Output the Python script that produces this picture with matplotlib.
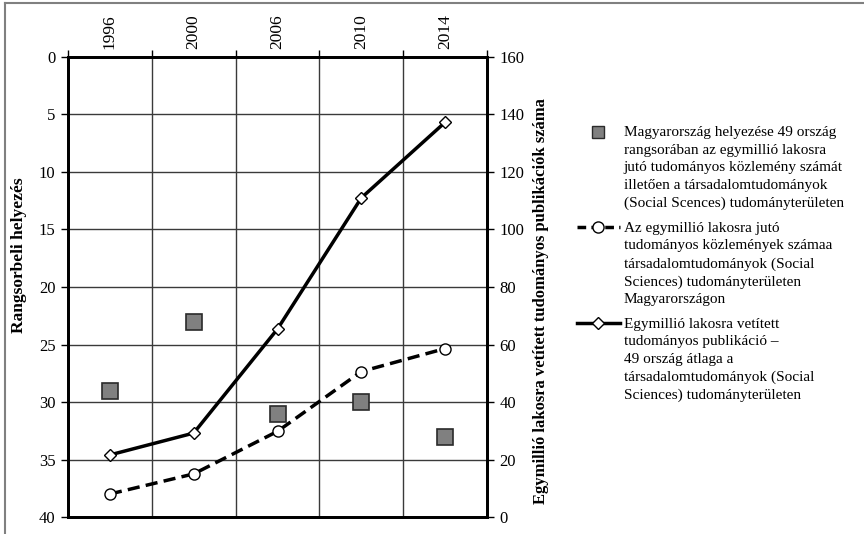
import matplotlib
matplotlib.use("Agg")
from matplotlib import pyplot as plt
from matplotlib.ticker import MultipleLocator, FixedLocator, NullFormatter
from matplotlib.lines import Line2D
import numpy as np

plt.rcParams['font.family'] = ['Liberation Serif', 'DejaVu Serif']

years = ["1996", "2000", "2006", "2010", "2014"]
rank_hu = [29, 23, 31, 30, 33]
pub_hu = [8, 15, 29.8, 50.6, 58.6]
pub_avg49 = [21.6, 29.2, 65.4, 111, 137.3]

lbl_rank = ("Magyarország helyezése 49 ország\nrangsorában az egymillió lakosra\n"
            "jutó tudományos közlemény számát\nilletően a társadalomtudományok\n"
            "(Social Scences) tudományterületen")
lbl_hu = ("Az egymillió lakosra jutó\ntudományos közlemények számaa\n"
          "társadalomtudományok (Social\nSciences) tudományterületen\nMagyarországon")
lbl_avg = ("Egymillió lakosra vetített\ntudományos publikáció –\n49 ország átlaga a\n"
           "társadalomtudományok (Social\nSciences) tudományterületen")

x = np.arange(len(years))

fig = plt.figure(figsize=(8.64, 5.34), dpi=100)
ax = fig.add_axes([0.0787, 0.0318, 0.485, 0.8615])
ax2 = ax.twinx()

# rank squares (left axis, inverted)
ax.plot(x, rank_hu, linestyle='none', marker='s', markersize=11.5,
        markerfacecolor='#808080', markeredgecolor='#2a2a2a', markeredgewidth=1.2, zorder=5)
ax.set_ylim(40, 0)
ax.yaxis.set_major_locator(MultipleLocator(5))
ax.set_xlim(-0.5, len(years) - 0.5)

# grid
for v in np.arange(0.5, len(years) - 0.5, 1):
    ax.axvline(v, color='#3a3a3a', lw=1, zorder=1)
for v in range(5, 40, 5):
    ax.axhline(v, color='#3a3a3a', lw=1, zorder=1)

# x ticks on top: marks at boundaries, labels at centers
ax.xaxis.set_ticks_position('top')
ax.xaxis.set_major_locator(FixedLocator(np.arange(-0.5, len(years), 1)))
ax.xaxis.set_major_formatter(NullFormatter())
ax.xaxis.set_minor_locator(FixedLocator(x))
ax.set_xticklabels(years, minor=True, rotation=90, fontsize=12.5)
ax.tick_params(axis='x', which='minor', length=0, pad=6)
ax.tick_params(axis='x', which='major', length=5, width=1, direction='out')
ax.tick_params(axis='y', length=5, width=1, direction='out', labelsize=12, pad=4)

ax2.plot(x, pub_hu, color='black', lw=2.5, dashes=(3.5, 1.8), marker='o', markersize=8,
         markerfacecolor='white', markeredgecolor='black', markeredgewidth=1, zorder=6)
ax2.plot(x, pub_avg49, color='black', lw=2.5, marker='D', markersize=6.5,
         markerfacecolor='white', markeredgecolor='black', markeredgewidth=1, zorder=6)
ax2.set_ylim(0, 160)
ax2.yaxis.set_major_locator(MultipleLocator(20))
ax2.tick_params(axis='y', length=5, width=1, direction='out', labelsize=12, pad=4)

for a in (ax, ax2):
    for s in a.spines.values():
        s.set_linewidth(2)
        s.set_color('black')

ax.set_ylabel("Rangsorbeli helyezés", fontweight='bold', fontsize=12.5)
ax.yaxis.set_label_coords(-0.097, 0.57)
ax2.set_ylabel("Egymillió lakosra vetített tudományos publikációk száma",
               fontweight='bold', fontsize=12)
ax2.yaxis.set_label_coords(1.11, 0.47)

handles = [
    Line2D([], [], linestyle='none', marker='s', markersize=9,
           markerfacecolor='#808080', markeredgecolor='#2a2a2a'),
    Line2D([], [], color='black', lw=2.5, dashes=(2.5, 1.5), marker='o', markersize=8,
           markerfacecolor='white', markeredgecolor='black'),
    Line2D([], [], color='black', lw=2.5, marker='D', markersize=6.5,
           markerfacecolor='white', markeredgecolor='black'),
]
leg = fig.legend(handles, [lbl_rank, lbl_hu, lbl_avg], loc='upper left',
                 bbox_to_anchor=(0.659, 0.778), frameon=False, fontsize=11,
                 handlelength=2.8, handletextpad=0.25, labelspacing=0.75, borderpad=0)
for t in leg.get_texts():
    t.set_linespacing(1.46)
# put each marker next to the first line of its label
for col in leg._legend_handle_box.get_children():
    for item in col.get_children():
        item.align = 'top'

# outer frame (top and left)
fig.add_artist(Line2D([5 / 864, 5 / 864], [0, 1 - 3 / 534], transform=fig.transFigure,
                      color='#808080', lw=1.5))
fig.add_artist(Line2D([5 / 864, 1], [1 - 3 / 534, 1 - 3 / 534], transform=fig.transFigure,
                      color='#808080', lw=1.5))

fig.savefig("out.png", dpi=100)
